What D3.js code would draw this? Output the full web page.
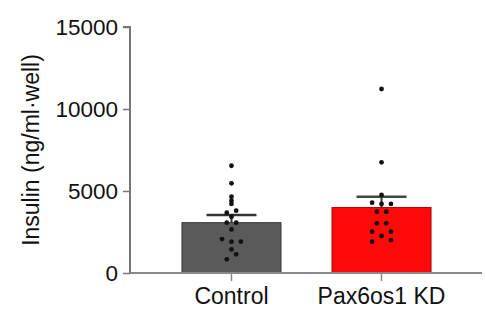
<!DOCTYPE html>
<html>
<head>
<meta charset="utf-8">
<script src="https://cdn.jsdelivr.net/npm/d3@7"></script>
<style>
  body { margin: 0; background: #fff; }
  text { font-family: "Liberation Sans", Arial, sans-serif; fill: #111; }
</style>
</head>
<body>
<div id="chart"></div>
<script>
const categories = ['Control', 'Pax6os1 KD'];
const means = [3070, 3990];
const sems = [3540, 4650];
const controlPoints = [6540, 5470, 4650, 4410, 4210, 3800, 3680, 3430, 3070, 3070, 2660, 2070, 1910, 1910, 1440, 1140, 835];
const kdPoints = [11220, 6750, 4760, 4290, 4210, 4210, 3740, 3740, 3030, 3030, 2520, 2520, 2260, 1910, 2010];
// beeswarm column per point (-2..2)
const controlCols = [0, 0, 0, 0, 0, 1, -1, 0, -1, 1, 0, -2, 0, 2, 0, 1, -1];
const kdCols = [0, 0, 0, -2, 0, 2, -1, 1, -1, 1, -2, 2, 0, -2, 2];
const yTicks = [0, 5000, 10000, 15000];
const colors = ['#5a5a5a', '#ff0a0a'];
const strokes = ['#3a3a3a', '#b00000'];

const width = 486, height = 327;
const margin = { top: 27, right: 4, bottom: 54, left: 130 };

const svg = d3.select('#chart').append('svg')
  .attr('width', width)
  .attr('height', height);

const y = d3.scaleLinear()
  .domain([0, 15000])
  .range([height - margin.bottom, margin.top]);

const x = d3.scaleBand()
  .domain(categories)
  .range([margin.left + 2, 481])
  .paddingInner(0.34)
  .paddingOuter(0.333);

// bars
svg.selectAll('.bar')
  .data(categories)
  .enter()
  .append('rect')
  .attr('class', 'bar')
  .attr('x', d => x(d))
  .attr('y', (d, i) => y(means[i]))
  .attr('width', x.bandwidth())
  .attr('height', (d, i) => y(0) - y(means[i]))
  .attr('fill', (d, i) => colors[i])
  .attr('stroke', (d, i) => strokes[i])
  .attr('stroke-width', 1);

// axes
const yAxis = d3.axisLeft(y).tickValues(yTicks).tickSize(7).tickPadding(5).tickFormat(d3.format('d'));
const gy = svg.append('g')
  .attr('transform', `translate(${margin.left},0)`)
  .call(yAxis);
gy.select('.domain').attr('stroke', '#777').attr('stroke-width', 2).attr('d', `M-7,${y(15000)}H0V${y(0)}`);
gy.selectAll('.tick line').attr('stroke', '#777').attr('stroke-width', 1.5);
gy.selectAll('.tick text').style('font-size', '22.5px').attr('fill', '#111');

const xAxis = d3.axisBottom(x).tickSize(8).tickPadding(7);
const gx = svg.append('g')
  .attr('transform', `translate(0,${y(0)})`)
  .call(xAxis);
gx.select('.domain').attr('stroke', '#888').attr('stroke-width', 2).attr('d', `M${margin.left},0H482`);
gx.selectAll('.tick line').attr('stroke', '#888').attr('stroke-width', 1.5);
gx.selectAll('.tick text').style('font-size', '23px').attr('fill', '#111');

// error bars (upper SEM)
const halfCap = 25;
svg.selectAll('.err')
  .data(categories)
  .enter()
  .append('g')
  .each(function (d, i) {
    const g = d3.select(this);
    const cx = x(d) + x.bandwidth() / 2;
    g.append('line')
      .attr('x1', cx).attr('x2', cx)
      .attr('y1', y(means[i])).attr('y2', y(sems[i]))
      .attr('stroke', '#333').attr('stroke-width', 2);
    g.append('line')
      .attr('x1', cx - halfCap).attr('x2', cx + halfCap)
      .attr('y1', y(sems[i])).attr('y2', y(sems[i]))
      .attr('stroke', i === 0 ? '#333' : '#444').attr('stroke-width', 2.5);
  });

// dots
const colStep = 4.7;
[[controlPoints, controlCols], [kdPoints, kdCols]].forEach(([pts, cols], i) => {
  const cx = x(categories[i]) + x.bandwidth() / 2;
  svg.append('g').selectAll('circle')
    .data(pts)
    .enter()
    .append('circle')
    .attr('cx', (d, j) => cx + cols[j] * colStep)
    .attr('cy', d => y(d))
    .attr('r', 2.4)
    .attr('fill', '#111');
});

// y label
svg.append('text')
  .attr('transform', `translate(39,${(y(0) + y(15000)) / 2}) rotate(-90)`)
  .attr('text-anchor', 'middle')
  .style('font-size', '23px')
  .text('Insulin (ng/ml·well)');
</script>
</body>
</html>
